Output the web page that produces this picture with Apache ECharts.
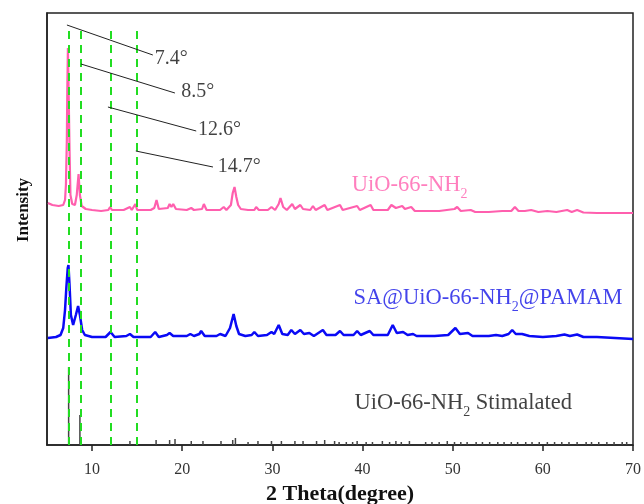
<!DOCTYPE html>
<html>
<head>
<meta charset="utf-8">
<script src="https://cdn.jsdelivr.net/npm/echarts@6/dist/echarts.min.js"></script>
<style>
  html, body { margin: 0; padding: 0; background: #fff; }
  #main { width: 644px; height: 504px; }
</style>
</head>
<body>
<div id="main"></div>
<script>
// 2 theta (deg) and stacked intensity (offset already included, arbitrary units)
var pinkData = [
  [5.1,242],[5.6,240],[6.3,239],[6.8,240],[7.0,245],[7.1,260],[7.2,305],[7.25,353],[7.32,397],[7.4,353],
  [7.5,295],[7.6,250],[7.8,241],[8.1,240],[8.3,250],[8.5,271],[8.65,250],[8.85,239],[9.3,236],[10.0,235],
  [11.0,234],[11.8,235],[12.0,238],[12.2,235],[13.5,235],[14.2,238],[14.4,235],[14.8,241],[15.0,235],[16.5,235],
  [16.9,237],[17.15,245],[17.4,236],[18.4,237],[18.6,241],[18.8,238],[19.0,241],[19.3,236],[20.5,235],[21.0,237],
  [21.3,235],[22.2,236],[22.4,241],[22.7,235],[24.2,235],[24.6,238],[24.9,235],[25.4,240],[25.6,252],[25.8,258],
  [26.0,248],[26.2,240],[26.5,236],[27.3,235],[28.0,235],[28.2,238],[28.5,235],[29.5,235],[29.9,238],[30.3,235],
  [30.7,241],[30.9,247],[31.2,238],[31.6,235],[32.2,241],[32.5,236],[33.1,240],[33.4,236],[34.2,235],[34.5,239],
  [34.8,235],[35.8,240],[36.1,235],[37.5,240],[37.8,235],[39.4,239],[39.7,235],[40.9,240],[41.2,235],[42.8,235],
  [43.2,240],[43.4,242],[43.7,237],[44.4,239],[44.7,236],[45.4,238],[45.8,234],[47.0,234],[48.5,234],[50.2,236],
  [50.5,238],[50.9,234],[52.0,235],[52.5,233],[54.0,233],[55.5,234],[56.5,234],[56.9,238],[57.3,234],[58.0,234],
  [58.7,235],[59.5,233],[60.5,234],[61.5,233],[62.7,235],[63.2,233],[63.8,235],[64.5,232.5],[66.0,232],[68.0,232],
  [70.0,232]
];
var blueData = [
  [5.1,107],[6.0,108],[6.5,110],[6.8,117],[7.0,135],[7.15,158],[7.3,177],[7.38,180],[7.5,160],[7.65,130],
  [7.9,120],[8.2,130],[8.45,139],[8.65,130],[8.9,115],[9.2,110],[10.0,108],[11.5,108],[12.05,113],[12.5,108],
  [13.8,109],[14.2,111],[14.6,108],[16.5,108],[17.0,113],[17.4,108],[18.3,110],[18.6,112],[19.0,109],[20.5,109],
  [20.9,111],[21.3,109],[21.9,111],[22.1,114],[22.5,109],[23.8,109],[24.2,111],[24.8,109],[25.3,117],[25.7,131],
  [26.0,119],[26.3,111],[27.0,109],[27.7,110],[28.0,113],[28.4,109],[29.4,110],[29.9,113],[30.2,111],[30.7,120],
  [31.1,111],[31.7,110],[32.1,115],[32.5,111],[33.1,115],[33.5,111],[34.1,112],[34.6,109],[35.6,115],[36.0,110],
  [37.0,110],[37.5,114],[37.9,110],[39.0,110],[39.4,114],[39.8,110],[40.8,114],[41.2,110],[42.8,110],[43.35,120],
  [43.8,112],[44.5,113],[45.0,110],[45.6,111],[46.0,109],[48.0,109],[49.5,110],[50.3,117],[50.8,111],[51.7,112],
  [52.2,109],[54.0,109],[54.8,110],[55.5,109],[56.2,111],[56.6,115],[57.0,111],[57.7,111],[58.5,109],[60.0,108],
  [61.5,109],[62.4,110.5],[63.0,109],[63.8,110.5],[64.5,108],[66.0,108],[68.0,107],[70.0,106]
];
// simulated pattern sticks
var stickData = [
  [7.4,78],[8.65,30],[14.2,4],[17.1,5],[18.6,5],[19.2,6],[21.0,4],[22.3,4],[24.3,4],[25.6,5],
  [25.9,7],[27.3,3],[28.4,4],[29.9,4],[31.0,4],[32.5,4],[33.4,4],[34.9,4],[35.8,5],[36.9,4],
  [37.4,3],[38.2,3],[38.9,3],[39.4,4],[40.4,3],[41.1,3],[42.2,4],[43.0,3],[43.7,4],[44.3,3],
  [45.2,4],[47.0,3],[47.7,3],[48.5,3],[49.4,4],[50.2,3],[50.9,3],[51.6,3],[52.6,3],[53.3,3],
  [54.1,3],[55.0,3],[55.7,3],[56.5,3],[57.2,3],[58.1,3],[58.8,3],[59.6,3],[60.5,3],[61.3,3],
  [62.1,3],[62.9,3],[63.8,3],[64.8,3],[65.4,3],[66.2,3],[67.1,3],[67.9,3],[68.8,3],[69.3,3]
];
var greenLines = [7.45, 8.75, 12.05, 14.95];
var xTicks = [10, 20, 30, 40, 50, 60, 70];
var peakLabels = ['7.4°', '8.5°', '12.6°', '14.7°'];
var leaderLines = [
  [[7.21, 420], [16.74, 390]],
  [[8.77, 381], [19.19, 352]],
  [[11.76, 338], [21.55, 314]],
  [[14.85, 294], [23.41, 278]]
];
var peakLabelPos = [[16.95, 386], [19.9, 353], [21.75, 315], [23.95, 278]];
var curveLabelPos = [[38.8, 260], [39.0, 147], [39.1, 42]];

var serif = "'Liberation Serif', 'Times New Roman', serif";

var dom = document.getElementById('main');
var myChart = echarts.init(dom, null, { renderer: 'canvas' });

function subText(color) {
  return {
    t: { fontSize: 22.5, fontFamily: serif, color: color, lineHeight: 26 },
    s: { fontSize: 14, fontFamily: serif, color: color, lineHeight: 14, verticalAlign: 'bottom', padding: [0, 0, -3, 0] }
  };
}

var labelItems = [];
for (var i = 0; i < peakLabels.length; i++) {
  labelItems.push({
    value: peakLabelPos[i],
    label: { show: true, position: 'right', distance: 0, formatter: peakLabels[i],
      fontSize: 20, fontFamily: serif, color: '#111' }
  });
}
labelItems.push({
  value: curveLabelPos[0],
  label: { show: true, position: 'right', distance: 0, formatter: '{t|UiO-66-NH}{s|2}', rich: subText('#ff5fae') }
});
labelItems.push({
  value: curveLabelPos[1],
  label: { show: true, position: 'right', distance: 0, formatter: '{t|SA@UiO-66-NH}{s|2}{t|@PAMAM}', rich: subText('#1414e6') }
});
labelItems.push({
  value: curveLabelPos[2],
  label: { show: true, position: 'right', distance: 0, formatter: '{t|UiO-66-NH}{s|2}{t| Stimalated}', rich: subText('#111') }
});

var greenMark = [];
for (var g = 0; g < greenLines.length; g++) {
  greenMark.push([{ coord: [greenLines[g], 0] }, { coord: [greenLines[g], 418] }]);
}
var leaderMark = [];
for (var k = 0; k < leaderLines.length; k++) {
  leaderMark.push([{ coord: leaderLines[k][0] }, { coord: leaderLines[k][1] }]);
}

var option = {
  animation: false,
  backgroundColor: '#fff',
  grid: {
    left: 47, right: 11, top: 13, bottom: 59,
    outerBoundsMode: 'none',
    containLabel: false,
    show: true, borderColor: '#222', borderWidth: 1.5
  },
  xAxis: {
    type: 'value',
    min: 5, max: 70,
    name: '2 Theta(degree)',
    nameLocation: 'middle',
    nameGap: 36,
    nameTextStyle: { fontSize: 22, fontWeight: 'bold', fontFamily: serif, color: '#111' },
    axisLine: { show: true, onZero: false, lineStyle: { color: '#222', width: 1.5 } },
    axisTick: { show: true, length: 6, inside: false, customValues: xTicks, lineStyle: { color: '#222', width: 1.5 } },
    axisLabel: { customValues: xTicks, fontSize: 16, fontFamily: serif, color: '#333', margin: 17 },
    splitLine: { show: false }
  },
  yAxis: {
    type: 'value',
    min: 0, max: 432,
    name: 'Intensity',
    nameLocation: 'middle',
    nameGap: 15,
    nameRotate: 90,
    nameTextStyle: { fontSize: 17, fontWeight: 'bold', fontFamily: serif, color: '#111', padding: [0, 0, 0, 38] },
    axisLine: { show: true, lineStyle: { color: '#222', width: 1.5 } },
    axisTick: { show: false },
    axisLabel: { show: false },
    splitLine: { show: false }
  },
  series: [
    {
      name: 'sticks',
      type: 'bar',
      data: stickData,
      barWidth: 1.5,
      itemStyle: { color: '#444' },
      z: 2
    },
    {
      name: 'UiO-66-NH2',
      type: 'line',
      data: pinkData,
      showSymbol: false,
      lineStyle: { color: '#ff5fae', width: 2.2 },
      z: 3
    },
    {
      name: 'SA@UiO-66-NH2@PAMAM',
      type: 'line',
      data: blueData,
      showSymbol: false,
      lineStyle: { color: '#0a0af5', width: 2.5 },
      z: 3
    },
    {
      name: 'guides',
      type: 'line',
      data: [],
      z: 5,
      markLine: {
        silent: true,
        symbol: ['none', 'none'],
        label: { show: false },
        lineStyle: { color: '#22dd22', width: 2, type: [8, 6] },
        data: greenMark
      }
    },
    {
      name: 'leaders',
      type: 'line',
      data: [],
      z: 6,
      markLine: {
        silent: true,
        symbol: ['none', 'none'],
        label: { show: false },
        lineStyle: { color: '#222', width: 1, type: 'solid' },
        data: leaderMark
      }
    },
    {
      name: 'labels',
      type: 'scatter',
      symbolSize: 0,
      data: labelItems,
      z: 7
    }
  ]
};

myChart.setOption(option);
</script>
</body>
</html>
